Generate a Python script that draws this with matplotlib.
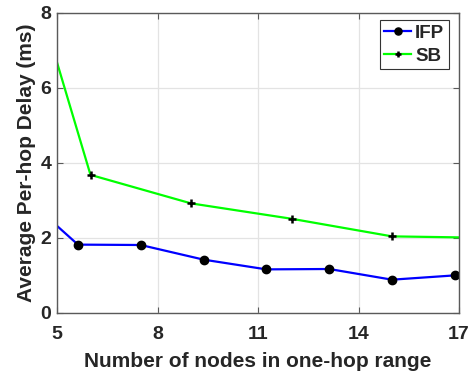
import numpy as np
import matplotlib
matplotlib.use('Agg')
import matplotlib.pyplot as plt

plt.rcParams['font.family'] = ['Liberation Sans', 'DejaVu Sans']
plt.rcParams['font.weight'] = 'bold'

# 数据（两端的点落在坐标范围之外，由坐标轴裁剪）
ifp_x = [3.75, 5.625, 7.5, 9.375, 11.25, 13.125, 15.0, 16.875, 18.75]
ifp_delay = [3.31, 1.81, 1.80, 1.41, 1.15, 1.16, 0.875, 0.99, 0.39]

sb_x = [3, 6, 9, 12, 15, 18]
sb_delay = [12.67, 3.67, 2.91, 2.50, 2.03, 1.99]

x_ticks = [5, 8, 11, 14, 17]
y_ticks = [0, 2, 4, 6, 8]

text_color = '#262626'
axis_color = '#5a5a5a'

fig = plt.figure(figsize=(4.76, 3.77), dpi=100)
ax = fig.add_axes([57 / 476, 1 - 312.5 / 377, 402 / 476, 300 / 377])

ax.plot(ifp_x, ifp_delay, color='#0000ff', linewidth=1.6, marker='o',
        markersize=6, markerfacecolor='black', markeredgecolor='black', label='IFP')
ax.plot(sb_x, sb_delay, color='#00ff00', linewidth=1.6, marker='+',
        markersize=5.5, markeredgewidth=1.8, markeredgecolor='black', label='SB')

ax.set_xlim(5, 17)
ax.set_ylim(0, 8)
ax.set_xticks(x_ticks)
ax.set_yticks(y_ticks)

# 网格与边框
ax.grid(True, color='#e3e3e3', linewidth=0.9)
ax.set_axisbelow(True)
for s in ax.spines.values():
    s.set_color(axis_color)
    s.set_linewidth(1.0)
ax.tick_params(direction='in', length=4, width=0.8, color=axis_color,
               top=True, right=True, labelsize=14, labelcolor=text_color)
ax.tick_params(axis='x', pad=10)
ax.tick_params(axis='y', pad=4)
for lab in ax.get_xticklabels() + ax.get_yticklabels():
    lab.set_fontweight('bold')

ax.set_xlabel('Number of nodes in one-hop range', fontsize=15, fontweight='bold',
              color=text_color, labelpad=6)
ax.set_ylabel('Average Per-hop Delay (ms)', fontsize=15, fontweight='bold',
              color=text_color, labelpad=3)

leg = ax.legend(loc='upper right', bbox_to_anchor=(0.975, 0.975), fontsize=13.5,
                frameon=True, fancybox=False, edgecolor='#333333', framealpha=1,
                handlelength=1.45, handletextpad=0.2, borderpad=0.25,
                labelspacing=0.3, borderaxespad=0, markerscale=0.85)
leg.get_frame().set_linewidth(0.8)
for t in leg.get_texts():
    t.set_color(text_color)
    t.set_fontweight('bold')

plt.savefig('out.png', dpi=100)
plt.close()
